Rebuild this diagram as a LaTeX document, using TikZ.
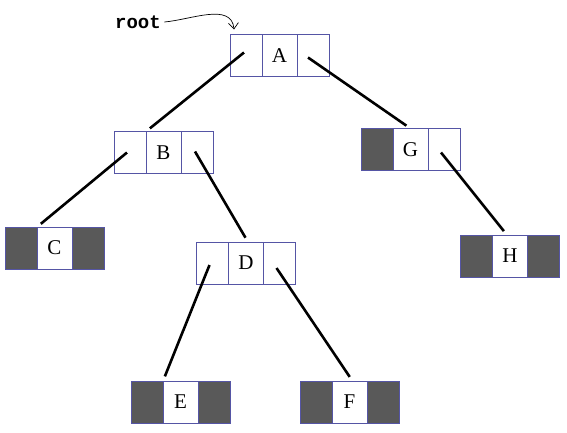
\documentclass[tikz,border=0pt]{standalone}
\usepackage{fontspec}
\setmainfont{Liberation Serif}
\newfontfamily\rootfont{Liberation Mono}
\usetikzlibrary{positioning,arrows.meta}
\definecolor{boxblue}{RGB}{85,85,165}
\definecolor{nullgray}{RGB}{89,89,89}

\begin{document}
\begin{tikzpicture}[
    x=1pt, y=-1pt,
    >={Straight Barb[length=6pt, width=10pt]},
    cell/.style={draw=boxblue, line width=0.8pt, minimum height=42pt, inner sep=0pt, outer sep=0pt, fill=white},
    datacell/.style={cell, minimum width=35pt, font=\fontsize{21}{22}\selectfont},
    ptrcell/.style={cell, minimum width=32pt},
    nullcell/.style={ptrcell, fill=nullgray},
    link/.style={line width=2.6pt, shorten >=5pt},
    pointer/.style={->, line width=0.7pt},
]
\useasboundingbox (0,0) rectangle (567,432);

% ==================== ROOT ====================
\node[datacell] (A) at (279.5,55.5) {A};
\node[ptrcell, left=0pt of A] (A_l) {};
\node[ptrcell, right=0pt of A] (A_r) {};

\node[font=\rootfont\bfseries\fontsize{19}{20}\selectfont] (root) at (138,22) {root};
\draw[pointer] (root.east) to[out=5, in=95] ([xshift=4pt, yshift=5pt]A_l.north west);

% ==================== SECOND LEVEL ====================
\node[datacell] (B) at (163.5,152.5) {B};
\node[ptrcell, left=0pt of B] (B_l) {};
\node[ptrcell, right=0pt of B] (B_r) {};

\node[datacell] (G) at (410.5,149.5) {G};
\node[nullcell, left=0pt of G] (G_l) {};
\node[ptrcell, right=0pt of G] (G_r) {};

% ==================== THIRD LEVEL ====================
\node[datacell] (C) at (54.5,248) {C};
\node[nullcell, left=0pt of C] (C_l) {};
\node[nullcell, right=0pt of C] (C_r) {};

\node[datacell] (D) at (246,263) {D};
\node[ptrcell, left=0pt of D] (D_l) {};
\node[ptrcell, right=0pt of D] (D_r) {};

\node[datacell] (H) at (510,256) {H};
\node[nullcell, left=0pt of H] (H_l) {};
\node[nullcell, right=0pt of H] (H_r) {};

% ==================== LEAVES ====================
\node[datacell] (E) at (180.5,402) {E};
\node[nullcell, left=0pt of E] (E_l) {};
\node[nullcell, right=0pt of E] (E_r) {};

\node[datacell] (F) at (349.5,402) {F};
\node[nullcell, left=0pt of F] (F_l) {};
\node[nullcell, right=0pt of F] (F_r) {};

% Child links
\draw[link] ([shift={(-2,-3)}]A_l.center) -- (B.north west);
\draw[link] ([shift={(-5,2)}]A_r.center) -- (G.north);
\draw[link] ([shift={(-3,0)}]B_l.center) -- (C.north west);
\draw[link] ([shift={(-2,-1)}]B_r.center) -- ([xshift=2pt]D.north);
\draw[link] ([shift={(-3,2)}]D_l.center) -- (E.north west);
\draw[link] ([shift={(-3,5)}]D_r.center) -- ([xshift=3pt]F.north);
\draw[link] ([shift={(-3,3)}]G_r.center) -- ([xshift=-3pt]H.north);

\end{tikzpicture}
\end{document}
